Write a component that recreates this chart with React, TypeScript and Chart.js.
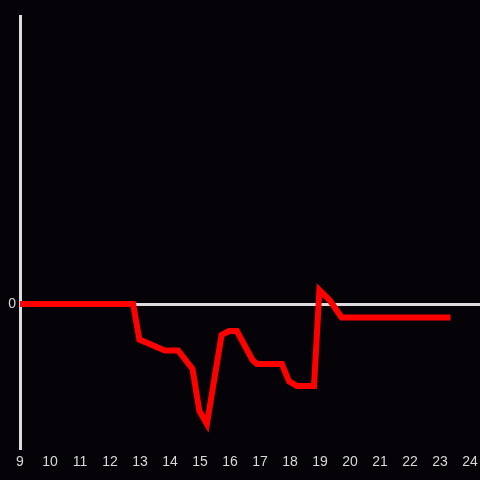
import React, { useEffect, useRef } from "react";
import { Chart, registerables } from "chart.js";

Chart.register(...registerables);

const hours = [9, 12.77, 12.98, 13.83, 14.27, 14.75, 14.98, 15.23, 15.72, 15.97, 16.23, 16.75, 16.9, 17.73, 17.97, 18.23, 18.8, 18.98, 19.33, 19.72, 23.25];
const values = [0, 0, -0.247, -0.323, -0.323, -0.451, -0.743, -0.833, -0.215, -0.1875, -0.1875, -0.389, -0.417, -0.417, -0.538, -0.569, -0.569, 0.097, 0.024, -0.094, -0.094];
const xTickLabels = [9, 10, 11, 12, 13, 14, 15, 16, 17, 18, 19, 20, 21, 22, 23, 24];
const yTickLabels = [0];

export default function App() {
  const ref = useRef<HTMLCanvasElement>(null);
  useEffect(() => {
    document.body.style.margin = "0";
    document.body.style.background = "#050307";
    const bg = {
      id: "bg",
      beforeDraw(c: any) {
        const ctx = c.ctx;
        ctx.save();
        ctx.fillStyle = "#050307";
        ctx.fillRect(0, 0, c.width, c.height);
        ctx.restore();
      },
    };
    const chart = new Chart(ref.current!, {
      type: "line",
      data: {
        datasets: [
          {
            data: hours.map((h, i) => ({ x: h, y: values[i] })),
            borderColor: "#ff0000",
            borderWidth: 6,
            pointRadius: 0,
            borderCapStyle: "square",
            tension: 0,
          },
        ],
      },
      options: {
        responsive: false,
        animation: false,
        layout: { padding: { top: 16, right: 0, left: 0, bottom: 0 } },
        plugins: { legend: { display: false }, tooltip: { enabled: false } },
        scales: {
          x: {
            type: "linear",
            min: 9,
            max: 24.333,
            afterBuildTicks: (s: any) => {
              s.ticks = xTickLabels.map((v) => ({ value: v }));
            },
            afterFit: (s: any) => {
              s.height = 32;
              s.paddingRight = 0;
              s.paddingLeft = 0;
            },
            grid: { display: false, drawTicks: false },
            border: { display: false },
            ticks: {
              color: "#d8d8d8",
              padding: 6,
              maxRotation: 0,
              autoSkip: false,
              font: { family: "'Liberation Sans', Arial, sans-serif", size: 14 },
            },
          },
          y: {
            min: -1,
            max: 2,
            afterBuildTicks: (s: any) => {
              s.ticks = yTickLabels.map((v) => ({ value: v }));
            },
            afterFit: (s: any) => {
              s.width = 20;
              s.paddingTop = 0;
              s.paddingBottom = 0;
            },
            grid: { color: "#dcdcdc", lineWidth: 3, drawTicks: false },
            border: { display: true, color: "#dcdcdc", width: 3 },
            ticks: {
              color: "#d8d8d8",
              padding: 4,
              font: { family: "'Liberation Sans', Arial, sans-serif", size: 14 },
            },
          },
        },
      },
      plugins: [bg],
    });
    return () => chart.destroy();
  }, []);
  return (
    <div style={{ width: 480, height: 480, background: "#050307" }}>
      <canvas ref={ref} width={480} height={480} />
    </div>
  );
}
